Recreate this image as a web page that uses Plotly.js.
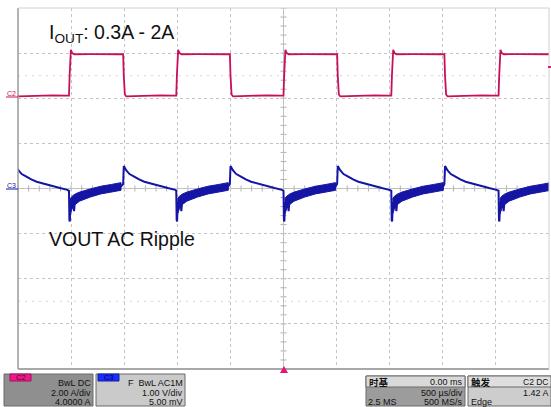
<!DOCTYPE html>
<html>
<head>
<meta charset="utf-8">
<script src="https://cdn.plot.ly/plotly-3.0.1.min.js"></script>
<style>
html,body{margin:0;padding:0;background:#fff;}
#chart{width:551px;height:407px;}
</style>
</head>
<body>
<div id="chart"></div>
<script>
// ---- data ----
const timeRange = [-2.5, 2.5];                 // ms (500 µs/div, 10 div)
const risingEdges = [-2.02, -1.01, 0.0, 1.015, 2.025];   // ms, load step up
const fallingEdges = [-2.525, -1.51, -0.505, 0.505, 1.515]; // ms, load step down

// C2: output current (A), shape after each edge (tau in ms)
const iRiseTau = [0, 0.006, 0.012, 0.018, 0.03, 0.05, 0.2, 0.35, 0.49];
const iRiseVal = [0.12, 1.0, 1.9, 2.15, 2.0, 1.95, 1.96, 1.94, 1.95];
const iFallTau = [0, 0.006, 0.016, 0.03, 0.2, 0.35, 0.49];
const iFallVal = [1.95, 1.0, 0.17, 0.08, 0.12, 0.13, 0.12];

// C3: output voltage AC ripple (V), thin trace
const vRiseTau = [0, 0.004, 0.008, 0.013, 0.02, 0.03, 0.038, 0.048, 0.056, 0.07, 0.1, 0.2, 0.3, 0.4, 0.49];
const vRiseVal = [-0.05, -0.70, -0.73, -0.40, -0.30, -0.42, -0.25, -0.50, -0.28, -0.30, -0.18, -0.10, -0.035, 0.005, 0.05];
const vFallTau = [0, 0.006, 0.03, 0.06, 0.1, 0.15, 0.2, 0.26, 0.35, 0.42, 0.49];
const vFallVal = [0.10, 0.50, 0.40, 0.32, 0.27, 0.20, 0.15, 0.11, 0.04, 0.01, -0.03];
// C3 noise band envelope during high-load interval
const bandTau = [0.01, 0.03, 0.06, 0.1, 0.2, 0.3, 0.4, 0.49];
const bandUpper = [-0.24, -0.17, -0.12, -0.08, -0.01, 0.05, 0.09, 0.13];
const bandLower = [-0.58, -0.45, -0.35, -0.28, -0.19, -0.12, -0.08, -0.04];

// scope settings (panel text)
const c2Info = ['BwL DC', '2.00 A/div', '4.0000 A'];
const c3Info = ['F  BwL AC1M', '1.00 V/div', '5.00 mV'];
const tbInfo = ['时基', '0.00 ms', '500 µs/div', '2.5 MS', '500 MS/s'];
const trigInfo = ['触发', 'C2 DC', '1.42 A', 'Edge'];
const titleTop = 'I<sub>OUT</sub>: 0.3A - 2A';
const titleMid = 'VOUT AC Ripple';

// ---- build traces ----
const events = [];
risingEdges.forEach(t => events.push({t, type: 'r'}));
fallingEdges.forEach(t => events.push({t, type: 'f'}));
events.sort((a, b) => a.t - b.t);

const ix = [], iy = [], vx = [], vy = [];
const bands = [];
events.forEach((ev, k) => {
  const next = k + 1 < events.length ? events[k + 1].t : 3.0;
  const limit = next - 0.002;
  const iT = ev.type === 'r' ? iRiseTau : iFallTau;
  const iV = ev.type === 'r' ? iRiseVal : iFallVal;
  iT.forEach((tau, j) => { if (ev.t + tau < limit) { ix.push(ev.t + tau); iy.push(iV[j]); } });
  const vT = ev.type === 'r' ? vRiseTau : vFallTau;
  const vV = ev.type === 'r' ? vRiseVal : vFallVal;
  vT.forEach((tau, j) => { if (ev.t + tau < limit) { vx.push(ev.t + tau); vy.push(vV[j]); } });
  if (ev.type === 'r') {
    const bx = [], by = [], lx = [], ly = [];
    bandTau.forEach((tau, j) => {
      if (ev.t + tau < limit) { bx.push(ev.t + tau); by.push(bandUpper[j]); lx.push(ev.t + tau); ly.push(bandLower[j]); }
    });
    bands.push({x: bx.concat(lx.slice().reverse()), y: by.concat(ly.slice().reverse())});
  }
});

const C2COL = '#c8105a';
const C3COL = '#1515a5';

const traces = [];
bands.forEach(b => traces.push({
  x: b.x, y: b.y, xaxis: 'x', yaxis: 'y2', mode: 'lines', fill: 'toself',
  fillcolor: C3COL, line: {color: C3COL, width: 1}, hoverinfo: 'skip'
}));
traces.push({x: vx, y: vy, xaxis: 'x', yaxis: 'y2', mode: 'lines', line: {color: C3COL, width: 2}});
traces.push({x: ix, y: iy, xaxis: 'x', yaxis: 'y', mode: 'lines', line: {color: C2COL, width: 1.8}});

// ---- geometry helpers (pixel -> paper) ----
const W = 551, H = 407;
const L = 18, R = 549, T = 8, B = 369;
const px = v => (v - L) / (R - L);
const py = v => (B - v) / (B - T);

const shapes = [];
// dotted rows between grid lines
[2.5, -2.5].forEach(v => shapes.push({type: 'line', xref: 'paper', x0: 0, x1: 1, yref: 'y2', y0: v, y1: v,
  line: {color: '#d4d4d4', width: 1, dash: '2px,5px'}, layer: 'below'}));
// center lines
shapes.push({type: 'line', xref: 'x', x0: 0, x1: 0, yref: 'paper', y0: 0, y1: 1, line: {color: '#bdbdbd', width: 1}, layer: 'below'});
shapes.push({type: 'line', xref: 'paper', x0: 0, x1: 1, yref: 'y2', y0: 0, y1: 0, line: {color: '#bdbdbd', width: 1}, layer: 'below'});
for (let k = 0; k <= 40; k++) {
  const v = -4 + k * 0.2;
  shapes.push({type: 'line', xref: 'x', xsizemode: 'pixel', xanchor: 0, x0: -3, x1: 3, yref: 'y2', y0: v, y1: v,
    line: {color: '#b0b0b0', width: 1}, layer: 'below'});
}
for (let k = 0; k <= 50; k++) {
  const t = -2.5 + k * 0.1;
  shapes.push({type: 'line', yref: 'y2', ysizemode: 'pixel', yanchor: 0, y0: -3, y1: 3, xref: 'x', x0: t, x1: t,
    line: {color: '#b0b0b0', width: 1}, layer: 'below'});
}
// borders
shapes.push({type: 'line', xref: 'paper', yref: 'paper', x0: 0, x1: 0, y0: 0, y1: 1, line: {color: '#9a9a9a', width: 1.5}});
shapes.push({type: 'line', xref: 'paper', yref: 'paper', x0: 0, x1: 1, y0: 0, y1: 0, line: {color: '#a8a8a8', width: 2}});
shapes.push({type: 'line', xref: 'paper', yref: 'paper', x0: 0, x1: 1, y0: 1, y1: 1, line: {color: '#d0d0d0', width: 1}});
shapes.push({type: 'line', xref: 'paper', yref: 'paper', x0: 1, x1: 1, y0: 0, y1: 1, line: {color: '#d0d0d0', width: 1}});
// channel ground markers
shapes.push({type: 'line', xref: 'paper', yref: 'paper', x0: px(6), x1: px(18), y0: py(97), y1: py(97), line: {color: C2COL, width: 1}});
shapes.push({type: 'line', xref: 'paper', yref: 'paper', x0: px(6), x1: px(18), y0: py(189), y1: py(189), line: {color: C3COL, width: 1}});
// trigger markers
shapes.push({type: 'path', xref: 'paper', yref: 'paper',
  path: `M ${px(280)} ${py(373)} L ${px(288)} ${py(373)} L ${px(284)} ${py(366)} Z`, fillcolor: '#e8147c', line: {width: 0}});
shapes.push({type: 'line', xref: 'paper', yref: 'paper', x0: px(548), x1: px(551), y0: py(67), y1: py(67), line: {color: '#e8147c', width: 2}});

// panels
function rect(x0, y0, x1, y1, fill, lineCol) {
  shapes.push({type: 'rect', xref: 'paper', yref: 'paper', x0: px(x0), x1: px(x1), y0: py(y1), y1: py(y0),
    fillcolor: fill, line: {color: lineCol || '#6a6a6a', width: 1}});
}
rect(4, 374, 93, 406, '#8f8f8f');
rect(10, 374, 31, 381, '#f01888', '#a01060');
rect(96, 374, 185, 406, '#cacaca');
rect(98, 374, 119, 381, '#1a2cff', '#1020a0');
rect(366, 376, 465, 406, '#9c9c9c');
rect(366, 376, 465, 387, '#d9d9d9');
rect(468, 376, 551, 406, '#cdcdcd');
rect(468, 376, 551, 387, '#dedede');

const annotations = [];
const FONT = 'Liberation Sans, Arial, sans-serif';
function txt(text, x, y, anchor, size, color, family, weight) {
  annotations.push({text, xref: 'paper', yref: 'paper', x: px(x), y: py(y), xanchor: anchor,
    yanchor: 'middle', showarrow: false,
    font: {family: family || FONT, size, color: color || '#111', weight: weight || 'normal'}, borderpad: 0});
}
txt(titleTop, 48, 33, 'left', 19.5, '#111');
txt(titleMid, 48, 239, 'left', 19.5, '#111');
txt('C2', 11, 94, 'center', 7, C2COL);
txt('C3', 11, 186, 'center', 7, C3COL);

txt('C2', 20.5, 377.5, 'center', 7.5, '#5a0030');
txt(c2Info[0], 92, 383, 'right', 9);
txt(c2Info[1], 92, 393, 'right', 9);
txt(c2Info[2], 92, 402, 'right', 9);
txt('C3', 108.5, 377.5, 'center', 7.5, '#000060');
txt(c3Info[0], 184, 383, 'right', 9);
txt(c3Info[1], 184, 393, 'right', 9);
txt(c3Info[2], 184, 402, 'right', 9);

const CJK = 'Noto Sans CJK SC, sans-serif';
txt(tbInfo[0], 368, 381.5, 'left', 9.5, '#111', CJK, 'bold');
txt(tbInfo[1], 464, 381.5, 'right', 9);
txt(tbInfo[2], 464, 393, 'right', 9);
txt(tbInfo[3], 367, 402, 'left', 9);
txt(tbInfo[4], 464, 402, 'right', 9);
txt(trigInfo[0], 470, 381.5, 'left', 9.5, '#111', CJK, 'bold');
txt(trigInfo[1], 550, 381.5, 'right', 8.5);
txt(trigInfo[2], 550, 393, 'right', 9);
txt(trigInfo[3], 470, 402, 'left', 9);

const layout = {
  width: W, height: H,
  margin: {l: L, r: W - R, t: T, b: H - B, pad: 0},
  paper_bgcolor: '#ffffff', plot_bgcolor: '#ffffff',
  showlegend: false,
  xaxis: {range: timeRange, showgrid: true, gridcolor: '#c4c4c4', griddash: 'dot', gridwidth: 1,
    tick0: -2.5, dtick: 0.5, showticklabels: false, ticks: '', zeroline: false, showline: false, fixedrange: true},
  yaxis: {range: [-12, 4], showgrid: false, showticklabels: false, ticks: '', zeroline: false, fixedrange: true},
  yaxis2: {range: [-4, 4], overlaying: 'y', showgrid: true, gridcolor: '#c4c4c4', griddash: 'dot', gridwidth: 1,
    tick0: -4, dtick: 1, showticklabels: false, ticks: '', zeroline: false, fixedrange: true},
  shapes, annotations
};

Plotly.newPlot('chart', traces, layout, {displayModeBar: false, staticPlot: true});
</script>
</body>
</html>
